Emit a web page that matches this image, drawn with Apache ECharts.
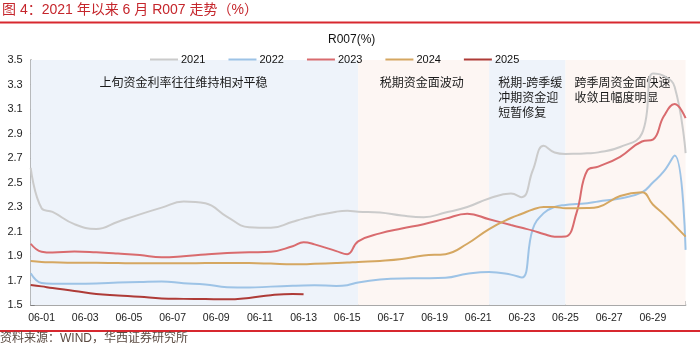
<!DOCTYPE html>
<html><head><meta charset="utf-8">
<script src="https://cdn.jsdelivr.net/npm/echarts@6/dist/echarts.min.js"></script>
<style>html,body{margin:0;padding:0;background:#fff}#c{width:700px;height:348px}</style>
</head><body><div id="c"></div>
<script>
// Category labels (June days)
const dates = ['06-01','06-02','06-03','06-04','06-05','06-06','06-07','06-08','06-09','06-10',
  '06-11','06-12','06-13','06-14','06-15','06-16','06-17','06-18','06-19','06-20',
  '06-21','06-22','06-23','06-24','06-25','06-26','06-27','06-28','06-29','06-30'];
// Position along the month (in days from the start of 06-01)
const xPos = [0,0.5,1,2,3,4,5,6,7,8,9,10,11,12,12.5,13,14,14.5,15,16,17,18,19,20,21,22,22.5,23,23.5,24,24.5,25,25.5,26,27,28,28.5,29,29.5,30];
const s2021 = [2.62,2.29,2.26,2.16,2.12,2.18,2.24,2.295,2.345,2.33,2.22,2.135,2.13,2.18,2.205,2.227,2.262,2.27,2.262,2.255,2.23,2.216,2.255,2.30,2.37,2.41,2.38,2.60,2.80,2.745,2.733,2.735,2.738,2.746,2.79,2.90,3.39,3.37,3.28,2.74];
const s2022 = [1.76,1.68,1.674,1.674,1.676,1.683,1.688,1.692,1.678,1.668,1.645,1.642,1.65,1.657,1.66,1.661,1.656,1.662,1.684,1.708,1.717,1.718,1.722,1.755,1.77,1.748,1.724,2.12,2.25,2.30,2.317,2.325,2.33,2.345,2.37,2.42,2.50,2.59,2.72,1.95];
const s2023 = [2.00,1.935,1.928,1.936,1.93,1.92,1.908,1.89,1.898,1.912,1.924,1.93,1.935,1.98,2.012,1.995,1.94,1.915,2.02,2.085,2.125,2.16,2.205,2.245,2.20,2.153,2.13,2.107,2.08,2.058,2.06,2.25,2.60,2.63,2.71,2.835,2.85,3.04,3.14,3.025];
const s2024 = [1.86,1.852,1.849,1.845,1.845,1.842,1.84,1.84,1.84,1.842,1.843,1.842,1.838,1.833,1.833,1.836,1.842,1.846,1.852,1.86,1.875,1.905,1.915,2.00,2.12,2.21,2.245,2.28,2.30,2.30,2.29,2.29,2.291,2.30,2.39,2.42,2.32,2.24,2.15,2.058];
const s2025 = [1.664,1.652,1.638,1.615,1.59,1.578,1.567,1.553,1.55,1.548,1.546,1.558,1.58,1.59,1.588,null,null,null,null,null,null,null,null,null,null,null,null,null,null,null,null,null,null,null,null,null,null,null,null,null];
const yTicks = {min:1.5, max:3.5, step:0.2};
const bands = [
  {from:0, to:15, color:'#EEF3FA', text:'上旬资金利率往往维持相对平稳', pos:'insideTop', offset:[-11,0]},
  {from:15, to:21, color:'#FDF6F3', text:'税期资金面波动', pos:'insideTop', offset:[-2,0]},
  {from:21, to:24.5, color:'#EEF3FA', text:'税期-跨季缓\n冲期资金迎\n短暂修复', pos:'insideTopLeft', offset:[0,6]},
  {from:24.5, to:30, color:'#FDF6F3', text:'跨季周资金面快速\n收敛且幅度明显', pos:'insideTopLeft', offset:[0,6]}
];
const names = ['2021','2022','2023','2024','2025'];
const colors = ['#CBCBCB','#9DC3E6','#D96B6E','#D5A761','#AE3B37'];
const values = [s2021,s2022,s2023,s2024,s2025];

const chart = echarts.init(document.getElementById('c'), null, {renderer:'canvas'});
const latin = 'Liberation Sans, Arial, sans-serif';
const cjk = 'Noto Sans CJK SC';

const lineSeries = names.map((n,k)=>({
  name:n, type:'line', xAxisIndex:1, yAxisIndex:0, smooth:0.45, symbol:'none',
  z:3, lineStyle:{color:colors[k], width:2}, itemStyle:{color:colors[k]},
  data: xPos.map((x,i)=> values[k][i]==null ? null : [x, values[k][i]]).filter(d=>d)
}));

const areaSeries = {
  type:'line', xAxisIndex:1, yAxisIndex:0, data:[], z:1, silent:true,
  markArea:{
    silent:true,
    data: bands.map(b=>[
      {xAxis:b.from, itemStyle:{color:b.color},
       label:{show:true, position:b.pos, distance:b.pos==='insideTop'?15:9, offset:b.offset,
              formatter:b.text, color:'#1a1a1a', fontFamily:cjk, fontSize:12, lineHeight:15, align: b.pos==='insideTop'?'center':'left'}},
      {xAxis:b.to}
    ])
  }
};

chart.setOption({
  backgroundColor:'#fff',
  animation:false,
  title:{text:'R007(%)', left:323, top:29, textStyle:{fontSize:12, fontWeight:'normal', color:'#111', fontFamily:latin}},
  legend:{data:names, left:145, top:49, icon:'rect', itemWidth:28, itemHeight:2, itemGap:23,
    textStyle:{fontSize:11, color:'#111', fontFamily:latin, padding:[0,0,0,-2]}},
  grid:{left:30.7, right:14.4, top:60, bottom:43},
  xAxis:[
    {type:'category', data:dates, boundaryGap:true,
     axisLine:{lineStyle:{color:'#8c8c8c', width:1.5}},
     axisTick:{show:true, inside:true, length:4, interval:1, lineStyle:{color:'#8c8c8c'}},
     axisLabel:{interval:1, fontSize:10.5, color:'#222', fontFamily:latin, margin:8},
     splitLine:{show:false}},
    {type:'value', min:0, max:30, show:false}
  ],
  yAxis:{type:'value', min:yTicks.min, max:yTicks.max, interval:yTicks.step,
    axisLine:{show:true, lineStyle:{color:'#7f7f7f', width:1.5}},
    axisTick:{show:true, inside:true, length:4, lineStyle:{color:'#7f7f7f'}},
    axisLabel:{fontSize:11, color:'#222', fontFamily:latin, margin:8, formatter:v=>v.toFixed(1)},
    splitLine:{show:false}},
  graphic:[
    {type:'text', left:2, top:3, style:{text:'图 4：2021 年以来 6 月 R007 走势（%）', fill:'#C5262C', font:'14px "Liberation Sans", "Noto Sans CJK SC"'}},
    {type:'rect', left:0, top:21.5, shape:{width:700, height:2}, style:{fill:'#D7282F'}},
    {type:'rect', left:0, top:330, shape:{width:700, height:2}, style:{fill:'#D7282F'}},
    {type:'text', left:0, top:333, style:{text:'资料来源：WIND，华西证券研究所', fill:'#5b4b42', font:'12px "Liberation Sans", "Noto Sans CJK SC"'}}
  ],
  series:[areaSeries].concat(lineSeries)
});
</script></body></html>
